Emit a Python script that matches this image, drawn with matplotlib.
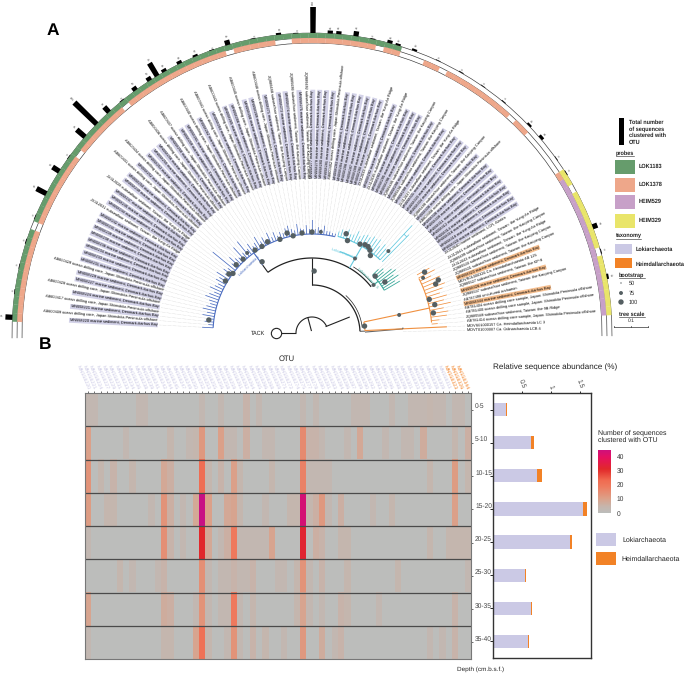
import numpy as np
import matplotlib
matplotlib.use("Agg")
import matplotlib.pyplot as plt
from matplotlib.colors import LinearSegmentedColormap
from matplotlib.patches import Rectangle

plt.rcParams['font.family'] = ['Liberation Sans', 'DejaVu Sans']
plt.rcParams['text.hinting'] = 'no_hinting'

W, H = 685, 673
CX, CY, RMAX = 312, 333, 350

# ---- panel A data ----
leaf_accession = [
    "MN558220", "AB600409", "MN558221", "AB600417", "MN558224", "AB600428", "MN558227", "MN558229", "AB600429",
    "MN558231", "MN558233", "MN558234", "MN558236", "MN558238", "MN558239", "MN558241", "MN558242", "JX312031",
    "MN558244", "MN558245", "MN558247", "JX312028", "MN558249", "MN558250", "AB600431", "MN558252", "AB600434",
    "MN558253", "MN558255", "MN558256", "AB600436", "MN558258", "AB600437", "MN558259", "MN558261", "AB600440",
    "MN558262", "AB600441", "MN558264", "AB600443", "MN558265", "MN558266", "AB600445", "MN558268", "MN558269",
    "AB600448", "MN558271", "JQ989488", "MN558272", "MN558274", "JQ989490", "MN558275", "JQ989492", "MN558277",
    "MN558278", "MN558280", "MN558281", "AB600452", "MN558283", "MN558284", "MN558286", "MN558287", "MN558289",
    "MN558290", "JX312033", "MN558292", "JX312035", "MN558293", "MN558295", "MN558296", "JQ989495", "MN558298",
    "JQ989496", "MN558299", "JX312037", "MN558301", "MN558303", "MN558304", "JQ989498", "MN558306", "AB600456",
    "MN558308", "MN558309", "MN558311", "MN558312", "MN558314", "MN558316", "MN558318", "MN558320", "JX312040",
    "JX312041", "JQ989499", "JX312043", "JQ989500", "JQ989501", "MN558323", "MDVR01000326", "JQ989527", "MN558326",
    "JQ989537", "AB787498", "MN558344", "AB781404", "AB781400", "JQ989569", "AB781414", "MDVS01000157",
    "MDVT01000007",
]
source_by_prefix = {
    "MN558": "marine sediment, Denmark:Aarhus Bay",
    "AB600": "ocean drilling core, Japan:Shimokita Peninsula offshore",
    "JX312": "subseafloor sediment, Taiwan: the Yung-An Ridge",
    "JQ989": "subseafloor sediment, Taiwan: the Kaoping Canyon",
    "AB781": "ocean drilling core sample, Japan: Shimokita Peninsula offshore",
}
special_source = {
    "JX312040": "marine sediment, LCR, Alaska",
    "AB787498": "uncultured archaeon",
    "JQ989569": "subseafloor sediment, Taiwan: the 9B Ridge",
    "JQ989527": "subseafloor sediment, Taiwan: the KP-9",
    "MDVR01000326": "Ca. Heimdallarchaeota AB 125",
    "MDVS01000157": "Ca. Heimdallarchaeota LC 3",
    "MDVT01000007": "Ca. Odinarchaeota LCB 4",
}
heim_leaves = ["MN558323", "MN558326", "MN558344"]

# ring membership, leaf numbers counted clockwise from the left
lok1183_leaves = [i for i in range(64) if i not in (11,)]
lok1378_leaves = [0, 1, 2, 3, 4, 5, 6, 7, 8, 9, 10, 12, 13, 14, 15, 16, 17, 18, 19, 20, 22, 23, 24, 25, 26, 27, 28,
                  30, 31, 32, 33, 34, 35, 36, 37, 38, 39, 40, 41, 42, 44, 45, 46, 47, 48, 51, 52, 53, 54, 55, 56,
                  57, 58, 59, 60, 62, 63, 67, 68, 70, 71, 72, 73, 74, 75, 76, 77, 78, 80, 81, 88]
heim529_leaves = [89, 90, 91, 92, 93, 94, 95, 96, 97, 98, 99, 100, 101, 102, 103, 104, 105]
heim329_leaves = [88, 89, 91, 92, 93, 94, 95, 96, 97, 99, 100, 101, 102, 103, 104, 105]

# total sequences clustered with each OTU (outer black bars)
bar_leaf = [0, 3, 6, 9, 12, 15, 18, 20, 23, 25, 27, 29, 31, 33, 34, 35, 37, 39, 41, 43, 46, 49, 51, 53, 55, 56, 58,
            60, 62, 63, 65, 68, 71, 74, 77, 81, 83, 86, 88, 95, 98, 101]
bar_value = [35, 3, 3, 4, 3, 55, 40, 3, 55, 155, 35, 4, 20, 20, 75, 15, 15, 10, 3, 25, 3, 10, 3, 130, 15, 15, 25,
             4, 15, 10, 10, 3, 4, 3, 4, 10, 15, 3, 4, 25, 4, 10]

# Loki clades: how far each tip reaches from the centre
blue_tip_r = [110, 104, 108, 106, 111, 107, 112, 109, 106, 108, 113, 110, 106, 112, 108, 106, 110, 108, 113, 105,
              109, 106, 128, 106, 112, 107, 105, 116, 106, 118, 106, 110, 105, 107, 112, 105, 108, 104, 110, 104,
              108, 103, 106, 104, 108, 110, 106, 104, 110, 105, 104, 108, 104, 113, 104, 106, 104, 108, 103, 103,
              102, 102]
cyan_tip_r = [105, 108, 106, 110, 106, 107, 112, 108, 111, 113, 112, 115, 114, 116, 110, 115, 112, 147, 138]
teal_tip_r = [92, 96, 94, 102, 105, 100, 104, 98, 102]
orange_tip_r = [134, 138, 132, 140, 136, 142, 138, 134, 140, 136, 142, 134, 138, 136, 128, 126, 135, 91]

# bootstrap dots (angle in degrees, radius, support)
node_angle = [172.8, 149, 144.6, 143, 138, 133, 129, 124.5, 120, 116, 108.9, 104, 101, 95.7, 90, 85, 125, 88,
              69, 71, 61.6, 59, 57, 53, 55, 47, 42, 35, 38, 60, 7.5, 11.7, 16, 13, 9.4, 28.4, 22.8, 21.6, 26.4, 3]
node_r = [104, 101, 102, 99, 102, 101, 103, 100.6, 100, 101.5, 99, 103, 99, 100.5, 101, 101.5, 87, 62,
          99, 105, 101, 103, 103, 97, 101, 112, 85, 89, 78, 86, 53, 89, 122, 126, 123, 128, 137, 133, 124, 91]
node_support = [100, 100, 100, 100, 100, 100, 75, 100, 100, 100, 100, 100, 100, 100, 100, 75, 100, 100,
                100, 100, 100, 100, 100, 100, 100, 75, 100, 100, 75, 75, 100, 75, 100, 100, 100, 100, 100, 100, 75, 50]

# ---- panel B data ----
depth_labels = ["0-5", "5-10", "10-15", "15-20", "20-25", "25-30", "30-35", "35-40"]
n_otu = 61
# {OTU column: sequences}, empty columns are zero
counts_0_5 = {0: 3, 1: 3, 8: 3, 9: 3, 18: 3, 21: 3, 25: 5, 27: 3, 34: 3, 36: 3, 42: 3, 43: 3, 44: 3, 48: 3, 51: 3,
              52: 3, 53: 3, 54: 4, 55: 3, 56: 3, 58: 3, 59: 3}
counts_5_10 = {0: 10, 6: 3, 13: 4, 16: 3, 17: 4, 18: 12, 21: 10, 22: 3, 23: 3, 25: 6, 28: 3, 29: 3, 34: 15, 35: 5,
               36: 5, 37: 3, 41: 3, 43: 8, 47: 3, 50: 3, 51: 3, 53: 7, 58: 4, 60: 6}
counts_10_15 = {0: 13, 2: 4, 4: 5, 7: 4, 12: 8, 13: 6, 18: 22, 19: 4, 21: 5, 23: 10, 24: 4, 29: 4, 34: 17, 35: 3,
                36: 3, 37: 3, 38: 3, 54: 4, 58: 11, 60: 4}
counts_15_20 = {0: 11, 3: 4, 4: 4, 10: 3, 12: 13, 13: 6, 15: 3, 17: 8, 18: 46, 19: 10, 22: 8, 23: 9, 24: 4, 28: 3,
                32: 4, 33: 4, 34: 43, 35: 4, 36: 6, 37: 12, 38: 3, 40: 6, 45: 3, 48: 4, 58: 10}
counts_20_25 = {0: 3, 12: 14, 13: 5, 15: 3, 18: 31, 19: 8, 21: 3, 22: 6, 23: 19, 24: 3, 25: 3, 26: 3, 27: 3, 28: 3,
                29: 9, 34: 32, 36: 6, 37: 5, 40: 4, 41: 4, 54: 4, 57: 4, 58: 4, 59: 4, 60: 4}
counts_25_30 = {5: 4, 7: 3, 11: 3, 12: 5, 18: 14, 19: 3, 21: 3, 22: 3, 23: 5, 24: 3, 25: 3, 26: 5, 30: 3, 31: 3,
                33: 4, 34: 13, 35: 3, 37: 5, 41: 4, 49: 4, 60: 3}
counts_30_35 = {0: 9, 12: 7, 13: 6, 17: 3, 18: 13, 19: 3, 21: 3, 22: 3, 23: 19, 24: 3, 26: 4, 33: 4, 34: 9, 35: 3,
                37: 3, 40: 5, 41: 4, 46: 3, 58: 5}
counts_35_40 = {0: 3, 12: 4, 13: 4, 17: 9, 18: 21, 19: 4, 22: 3, 23: 13, 24: 3, 26: 5, 28: 4, 31: 3, 34: 12, 37: 7,
                39: 3, 40: 5, 54: 3, 56: 3, 58: 5}
all_counts = [counts_0_5, counts_5_10, counts_10_15, counts_15_20, counts_20_25, counts_25_30, counts_30_35,
              counts_35_40]

loki_abundance = [0.208, 0.649, 0.754, 1.554, 1.333, 0.545, 0.643, 0.597]
heim_abundance = [0.023, 0.046, 0.087, 0.070, 0.035, 0.023, 0.023, 0.017]

GREEN, SALMON, PURPLE, YELLOW = "#669c6c", "#eea78a", "#c7a0c8", "#e9e56a"
LAV, ORANGE = "#cbc9e5", "#f28226"
LABEL_BG = "#d3d2e8"
ORANGE_BG = "#f6bf8f"
BLUE, CYAN, TEAL, TREE_OR = "#4a6cc0", "#62c8de", "#3aa89a", "#f09040"
DOT = "#555f62"


def px_axes(x0, y0, x1, y1, **kw):
    return fig.add_axes([x0 / W, 1 - y1 / H, (x1 - x0) / W, (y1 - y0) / H], **kw)


def leaf_a(i):
    return 177 - 1.645 * np.asarray(i)


fig = plt.figure(figsize=(W / 100, H / 100), dpi=100)

# ---- panel A: circular tree on a polar axes ----
ax = px_axes(CX - RMAX, CY - RMAX, CX + RMAX, CY + RMAX, projection="polar")
ax.set_rlim(0, RMAX)
ax.axis("off")
ax.patch.set_alpha(0)


def arc(a0, a1, r, color, lw=0.8, z=2):
    t = np.radians(np.linspace(a0, a1, 60))
    ax.plot(t, np.full(60, r), color=color, lw=lw, solid_capstyle="butt", zorder=z)


def radial(a, r0, r1, color, lw=0.8, a1=None):
    a1 = a if a1 is None else a1
    ax.plot(np.radians([a, a1]), [r0, r1], color=color, lw=lw, solid_capstyle="butt")


def ring(leaves, r0, r1, color):
    ax.bar(np.radians(leaf_a(leaves)), r1 - r0, width=np.radians(1.66), bottom=r0, color=color,
           edgecolor=color, linewidth=0.1, zorder=3)


for r in (290, 295, 300):
    arc(181, -0.6, r, "#333333", 0.45, z=1)
ring(lok1183_leaves, 295, 300, GREEN)
ring(lok1378_leaves, 290, 295, SALMON)
ring(heim529_leaves, 290, 295, PURPLE)
ring(heim329_leaves, 295, 300, YELLOW)

bar_r = 0.2 * np.array(bar_value)
ax.bar(np.radians(leaf_a(bar_leaf)), bar_r, width=np.radians(1.0), bottom=300, color="black", linewidth=0, zorder=3)
for i, v, h in zip(bar_leaf, bar_value, bar_r):
    a = leaf_a(i)
    right = a < 90
    ax.text(np.radians(a), 302 + h, str(v), fontsize=2.2, color="#444444", rotation=a if right else a - 180,
            rotation_mode="anchor", ha="left" if right else "right", va="center")

# leaf labels and their dotted guides
tips = blue_tip_r + cyan_tip_r + teal_tip_r + orange_tip_r
for i, acc in enumerate(leaf_accession):
    a = leaf_a(i)
    right = a < 90
    src = special_source.get(acc, source_by_prefix.get(acc[:5], ""))
    if acc in heim_leaves:
        bg = dict(facecolor=ORANGE_BG, edgecolor="none", pad=0.4)
    elif acc.startswith("MN558"):
        bg = dict(facecolor=LABEL_BG, edgecolor="none", pad=0.4)
    else:
        bg = None
    ax.text(np.radians(a), 155, acc + " " + src, fontsize=2.75, color="black", bbox=bg,
            rotation=a if right else a - 180, rotation_mode="anchor", ha="left" if right else "right", va="center")
    ax.plot(np.radians([a, a]), [tips[i], 153], color="#aaaaaa", lw=0.3, ls=(0, (1, 2)))

# backbone
radial(180, 16, 31.5, "#222222")
arc(180, 25, 16, "#222222")
radial(105, 16, 2, "#222222")
radial(25, 15, 41, "#222222", a1=23)
arc(90, 2, 48, "#222222", 0.9)
arc(48, 6, 50.5, "#222222", 0.5)
radial(90, 48, 75, "#222222")
arc(126, 38, 75, "#222222", 0.9)
arc(58, 40, 78, "#222222", 0.5)
radial(126, 75, 84, "#222222")
radial(2, 48, 53, "#666666")
radial(1, 53, 91, "#666666", a1=2.6)
ax.scatter(np.radians([180]), [36], s=55, facecolor="white", edgecolor="#222222", linewidth=0.8, zorder=4)
ax.text(np.pi, 47, "TACK", fontsize=4, ha="right", va="center", color="#222222")

# Lokiarchaeota clade in blue
radial(126, 84, 99, BLUE)
arc(float(leaf_a(0)), float(leaf_a(61)), 99, BLUE)
for i, r in enumerate(blue_tip_r):
    radial(float(leaf_a(i)), 99, r, BLUE, 0.55)

# cyan clade
arc(71, 60, 86, CYAN)
radial(60, 75, 100, CYAN)
arc(float(leaf_a(62)), float(leaf_a(79)), 100, CYAN)
for i, r in enumerate(cyan_tip_r):
    radial(float(leaf_a(62 + i)), 100, r, CYAN, 0.55)
arc(47, 45.4, 135, CYAN, 0.55)

# teal clade
radial(38, 78, 84, TEAL)
arc(float(leaf_a(81)), float(leaf_a(89)), 84, TEAL)
for i, r in enumerate(teal_tip_r):
    radial(float(leaf_a(81 + i)), 84, r, TEAL, 0.6)

# Heimdallarchaeota clade
arc(2.6, 12, 53, TREE_OR)
radial(12, 53, 120, TREE_OR)
arc(27, 5, 120, TREE_OR)
for i, r in enumerate(orange_tip_r[:16]):
    radial(float(leaf_a(90 + i)), 120, r, TREE_OR, 0.55)
radial(float(leaf_a(106)), 53, 135, TREE_OR)

node_s = {50: 1, 75: 8, 100: 15}
ax.scatter(np.radians(node_angle), node_r, s=[node_s[s] for s in node_support], color=DOT, linewidth=0, zorder=5)

for a, r, lab, col, rot in [(133, 92, "Lokiarchaeota 1", BLUE, 44), (68, 85, "Lokiarchaeota 2", CYAN, -20),
                            (45, 78, "Lokiarchaeota 3", TEAL, -45)]:
    ax.text(np.radians(a), r, lab, fontsize=2.8, color=col, rotation=rot, ha="center", va="center",
            rotation_mode="anchor")

# ---- panel B: heatmap ----
rows = np.zeros((8, n_otu))
for k, d in enumerate(all_counts):
    for col, v in d.items():
        rows[k, col] = v

heat_cmap = LinearSegmentedColormap.from_list("seqs", [
    (0, "#bcbdbb"), (0.1, "#c6b5ac"), (0.22, "#dca088"), (0.4, "#ee7b5f"), (0.5, "#f06a50"),
    (0.67, "#e1282a"), (0.85, "#e51060"), (1, "#c81084")])

axh = px_axes(85, 393, 471, 659)
im = axh.imshow(rows, aspect="auto", cmap=heat_cmap, vmin=0, vmax=46, interpolation="nearest")
for y in np.arange(0.5, 7.5):
    axh.axhline(y, color="#4a4a4a", lw=0.9)
for s in axh.spines.values():
    s.set_color("#777777")
    s.set_linewidth(0.8)
otu_names = [a for a in leaf_accession if a.startswith("MN558") and a not in heim_leaves][:n_otu - 3] + heim_leaves
axh.xaxis.tick_top()
axh.set_xticks(range(n_otu), otu_names)
axh.tick_params(axis="x", length=1.5, width=0.5, pad=1, labelsize=3.9, color="#333333")
for k, lab in enumerate(axh.get_xticklabels()):
    lab.set(rotation=-66, ha="right", va="center", rotation_mode="anchor", color=ORANGE if k >= n_otu - 3 else LAV)
axh.yaxis.tick_right()
axh.set_yticks(range(8), depth_labels)
axh.tick_params(axis="y", length=1.5, width=0.5, pad=1.5, labelsize=4.8, labelcolor="#444444", color="#333333")
for lab in axh.get_yticklabels():
    lab.set_va("bottom")

# relative abundance bars
axb = px_axes(493, 393, 591, 658)
y = np.arange(8)
axb.barh(y, loki_abundance, height=0.4, color=LAV, linewidth=0)
axb.barh(y, heim_abundance, left=loki_abundance, height=0.4, color=ORANGE, linewidth=0)
axb.set_xlim(-0.01, 1.69)
axb.set_ylim(7.5, -0.5)
axb.xaxis.tick_top()
axb.set_xticks([0.5, 1, 1.5], ["0.5", "1", "1.5"], rotation=-70, ha="center")
axb.set_yticks(y, [])
axb.tick_params(axis="x", length=1.5, width=0.6, pad=1, labelsize=4.8, labelcolor="#444444")
axb.tick_params(axis="y", length=2.5, width=0.6)
for s in axb.spines.values():
    s.set_color("#333333")
    s.set_linewidth(1)

cax = px_axes(598, 450, 611, 513)
cb = fig.colorbar(im, cax=cax)
cb.outline.set_visible(False)
cb.set_ticks([0, 10, 20, 30, 40])
cb.ax.set_ylim(0, 44.2)
cb.ax.tick_params(length=0, pad=4, labelsize=4.8, labelcolor="#333333")

# ---- free text and legends, in figure pixels ----
tx = fig.add_axes([0, 0, 1, 1], zorder=10)
tx.set_xlim(0, W)
tx.set_ylim(H, 0)
tx.axis("off")
tx.patch.set_alpha(0)
tx.text(47, 31, "A", fontsize=12.5, fontweight="bold", va="center")
tx.text(39, 345, "B", fontsize=12.5, fontweight="bold", va="center")
tx.text(287, 359, "OTU", fontsize=5.5, ha="center", va="center", color="#222222")
tx.text(493, 367, "Relative sequence abundance (%)", fontsize=5.85, va="center", color="#222222")
tx.text(457, 669, "Depth (cm.b.s.f.)", fontsize=4.6, va="center", color="#222222")
tx.text(598, 433, "Number of sequences", fontsize=5, va="center", color="#222222")
tx.text(598, 440, "clustered with OTU", fontsize=5, va="center", color="#222222")
tx.add_patch(Rectangle((596, 533), 20, 13, color=LAV, lw=0))
tx.add_patch(Rectangle((596, 552), 20, 13, color=ORANGE, lw=0))
tx.text(622, 540, "Lokiarchaeota", fontsize=5, va="center", color="#222222")
tx.text(621, 559, "Heimdallarchaeota", fontsize=5, va="center", color="#222222")

tx.add_patch(Rectangle((619, 118), 5, 27, color="black", lw=0))
for yy, t in zip([122, 129, 135, 142], ["Total number", "of sequences", "clustered with", "OTU"]):
    tx.text(629, yy, t, fontsize=4, fontweight="bold", va="center", color="#222222")


def heading(x, y, t, wid):
    tx.text(x, y, t, fontsize=4, fontweight="bold", va="center", color="#222222")
    tx.plot([x, x + wid], [y + 3.2, y + 3.2], color="#222222", lw=0.4)


heading(616, 153, "probes", 18)
for yy, hh, c, t in zip([160, 178, 195, 214], [14, 14, 14, 14], [GREEN, SALMON, PURPLE, YELLOW],
                        ["LOK1183", "LOK1378", "HEIM529", "HEIM329"]):
    tx.add_patch(Rectangle((615, yy), 20, hh, color=c, lw=0))
    tx.text(639, yy + 6, t, fontsize=4, fontweight="bold", va="center", color="#222222")
heading(616, 236, "taxonomy", 25)
tx.add_patch(Rectangle((615, 244), 17, 10, color=LAV, lw=0))
tx.add_patch(Rectangle((615, 258), 17, 10, color=ORANGE, lw=0))
tx.text(636, 249, "Lokiarchaeota", fontsize=4, fontweight="bold", va="center", color="#222222")
tx.text(636, 264, "Heimdallarchaeota", fontsize=4, fontweight="bold", va="center", color="#222222")
heading(619, 275, "bootstrap", 26)
tx.scatter([621, 621, 621], [283, 293, 302], s=[1, 8, 15], color=DOT, linewidth=0)
for yy, t in zip([283, 293, 302], ["50", "75", "100"]):
    tx.text(629, yy, t, fontsize=4, va="center", color="#222222")
heading(619, 314, "tree scale", 26)
tx.text(631, 321, "0.1", fontsize=3.6, ha="center", va="center", color="#222222")
tx.plot([614, 648], [327, 327], color="#333333", lw=0.5)
for xx in (614, 631, 648):
    tx.plot([xx, xx], [325.5, 327], color="#333333", lw=0.5)

fig.savefig("out.png", dpi=100)
